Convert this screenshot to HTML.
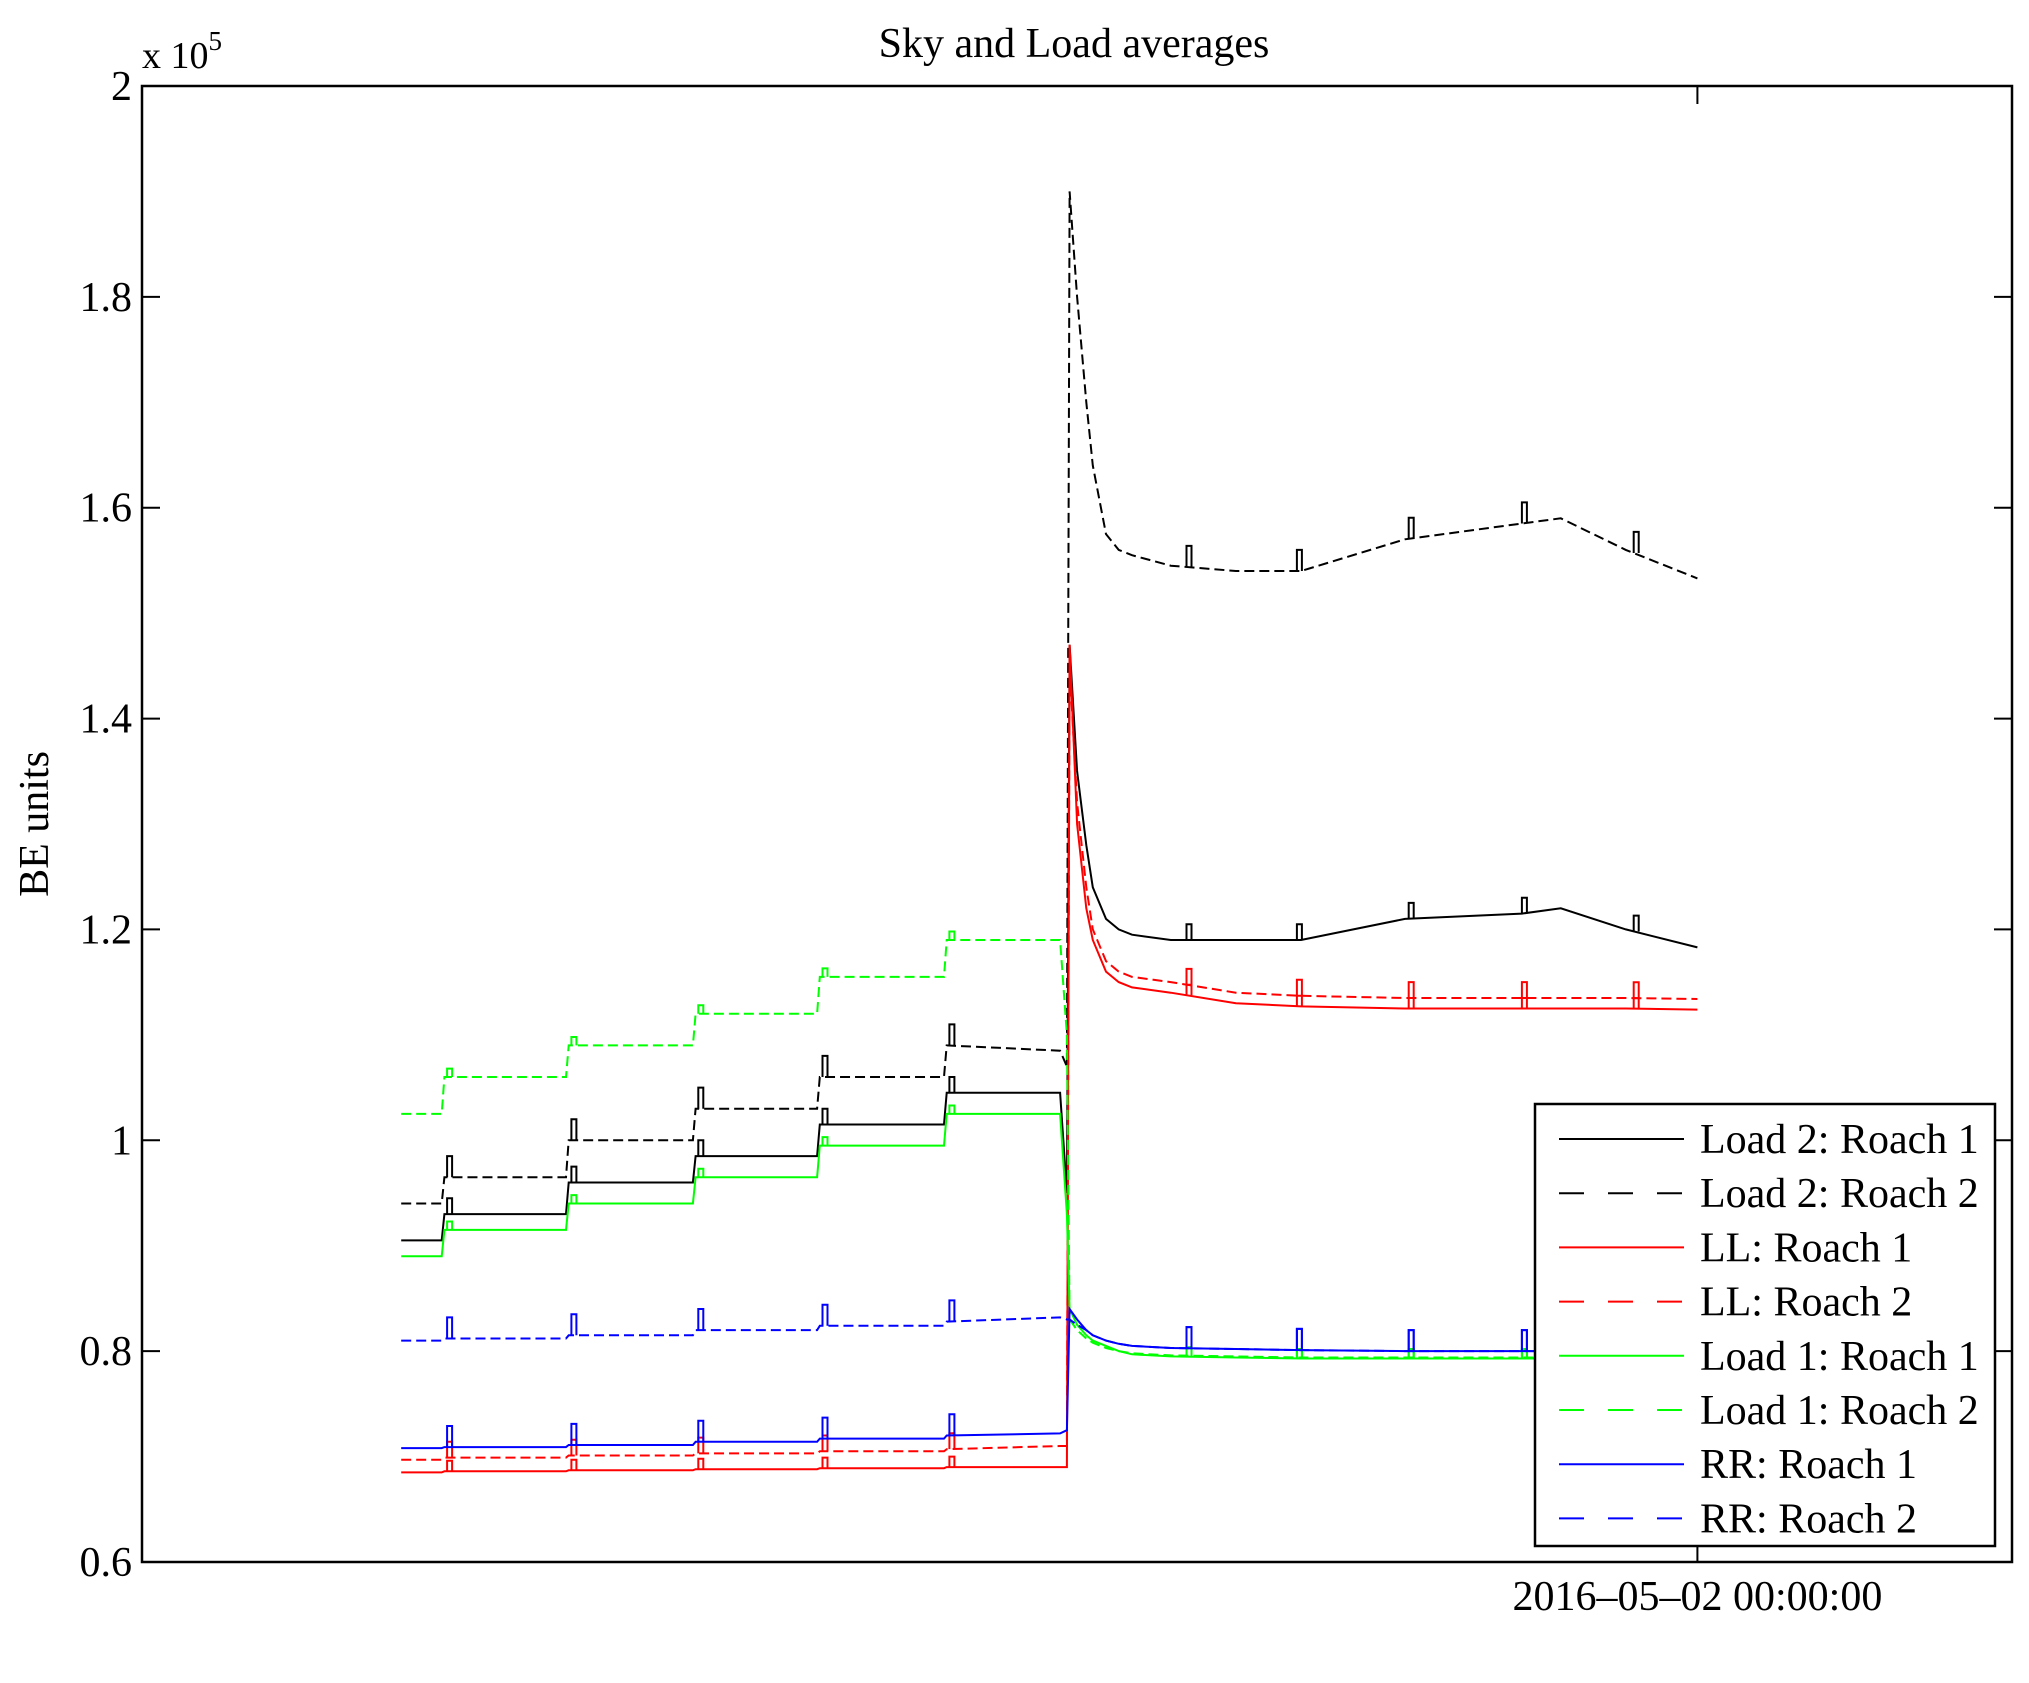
<!DOCTYPE html>
<html><head><meta charset="utf-8"><style>
html,body{margin:0;padding:0;background:#fff}
svg{display:block}
text{font-family:"Liberation Serif",serif;fill:#000}
</style></head><body>
<svg id="chart" width="2029" height="1683" viewBox="0 0 2029 1683">
<rect x="0" y="0" width="2029" height="1683" fill="#fff"/>
<text x="1074" y="57" font-size="42" text-anchor="middle">Sky and Load averages</text>
<text transform="translate(48,824) rotate(-90)" font-size="42" text-anchor="middle">BE units</text>
<text x="142" y="68" font-size="38">x 10<tspan dy="-18" font-size="27">5</tspan></text>
<g id="ticks"></g>
<g id="series"></g>
<rect x="142" y="86" width="1870" height="1476" fill="none" stroke="#000" stroke-width="2.5"/>
<g id="legend"></g>
</svg>
<script>
const yTicks=[0.6,0.8,1,1.2,1.4,1.6,1.8,2];
const yTickLabels=["0.6","0.8","1","1.2","1.4","1.6","1.8","2"];
const xTicks=[0];
const xTickLabels=["2016\u201305\u201302 00:00:00"];
const times=[-48,-46.5,-46.4,-41.9,-41.8,-37.2,-37.1,-32.6,-32.5,-27.9,-27.8,-23.6,-23.35,-23.25,-22.97,-22.63,-22.39,-21.9,-21.43,-20.94,-19.5,-17.09,-14.68,-10.83,-6.5,-5.06,-2.65,0];
const load2R1=[0.905,0.905,0.93,0.93,0.96,0.96,0.985,0.985,1.015,1.015,1.045,1.045,0.95,1.47,1.35,1.28,1.24,1.21,1.2,1.195,1.19,1.19,1.19,1.21,1.215,1.22,1.2,1.183];
const load2R2=[0.94,0.94,0.965,0.965,1.0,1.0,1.03,1.03,1.06,1.06,1.09,1.085,1.07,1.9,1.8,1.7,1.64,1.575,1.56,1.555,1.545,1.54,1.54,1.57,1.585,1.59,1.56,1.533];
const llR1=[0.685,0.685,0.686,0.686,0.687,0.687,0.688,0.688,0.689,0.689,0.69,0.69,0.69,1.47,1.3,1.22,1.19,1.16,1.15,1.145,1.14,1.13,1.127,1.125,1.125,1.125,1.125,1.124];
const llR2=[0.697,0.697,0.699,0.699,0.701,0.701,0.703,0.703,0.705,0.705,0.707,0.71,0.71,1.45,1.32,1.24,1.2,1.17,1.16,1.155,1.15,1.14,1.137,1.135,1.135,1.135,1.135,1.134];
const load1R1=[0.89,0.89,0.915,0.915,0.94,0.94,0.965,0.965,0.995,0.995,1.025,1.025,0.93,0.84,0.825,0.815,0.81,0.805,0.8,0.797,0.795,0.794,0.793,0.793,0.793,0.793,0.793,0.793];
const load1R2=[1.025,1.025,1.06,1.06,1.09,1.09,1.12,1.12,1.155,1.155,1.19,1.19,1.1,0.83,0.82,0.812,0.808,0.803,0.8,0.798,0.796,0.795,0.794,0.794,0.794,0.794,0.794,0.794];
const rrR1=[0.708,0.708,0.709,0.709,0.711,0.711,0.714,0.714,0.717,0.717,0.72,0.722,0.725,0.84,0.83,0.82,0.815,0.81,0.807,0.805,0.803,0.802,0.801,0.8,0.8,0.8,0.8,0.8];
const rrR2=[0.81,0.81,0.812,0.812,0.815,0.815,0.82,0.82,0.824,0.824,0.828,0.832,0.83,0.83,0.825,0.82,0.815,0.81,0.807,0.805,0.803,0.802,0.801,0.8,0.8,0.8,0.8,0.8];
const spikeTimes=[-46.3,-41.7,-37.0,-32.4,-27.7,-18.92,-14.83,-10.69,-6.5,-2.36];
const seriesNames=["Load 2: Roach 1","Load 2: Roach 2","LL: Roach 1","LL: Roach 2","Load 1: Roach 1","Load 1: Roach 2","RR: Roach 1","RR: Roach 2"];
const seriesValues=[load2R1,load2R2,llR1,llR2,load1R1,load1R2,rrR1,rrR2];
const spikeHeights=[0.015,0.02,0.01,0.015,0.008,0.008,0.02,0.02];

const NS="http://www.w3.org/2000/svg";
const X0=142,X1=2012,Y0=86,Y1=1562;
const xMin=-57.6,xMax=11.65,yMin=0.6,yMax=2.0;
function sx(t){return X0+(t-xMin)/(xMax-xMin)*(X1-X0);}
function sy(v){return Y1-(v-yMin)/(yMax-yMin)*(Y1-Y0);}
function mk(tag,attrs,parent){const e=document.createElementNS(NS,tag);for(const k in attrs)e.setAttribute(k,attrs[k]);parent.appendChild(e);return e;}
function interp(arr,t){for(let i=0;i<times.length-1;i++){if(t>=times[i]&&t<=times[i+1]){const f=(t-times[i])/(times[i+1]-times[i]);return arr[i]+f*(arr[i+1]-arr[i]);}}return arr[arr.length-1];}
const colors=["#000","#000","#f00","#f00","#0f0","#0f0","#00f","#00f"];
const dashed=[false,true,false,true,false,true,false,true];

const tg=document.getElementById('ticks');
yTicks.forEach((v,i)=>{
  const y=sy(v);
  const a=mk('line',{x1:X0,y1:y,x2:X0+18,y2:y,stroke:'#000','stroke-width':2},tg);
  
  
  const b=mk('line',{x1:X1-18,y1:y,x2:X1,y2:y,stroke:'#000','stroke-width':2},tg);
  
  
  const l=mk('text',{x:X0-10,y:y+14,'font-size':42,'text-anchor':'end'},tg);
  l.textContent=yTickLabels[i];
  
  
});
xTicks.forEach((t,i)=>{
  const x=sx(t);
  const a=mk('line',{x1:x,y1:Y1,x2:x,y2:Y1-18,stroke:'#000','stroke-width':2},tg);
  
  
  const b=mk('line',{x1:x,y1:Y0,x2:x,y2:Y0+18,stroke:'#000','stroke-width':2},tg);
  
  
  const l=mk('text',{x:x,y:Y1+48,'font-size':42,'text-anchor':'middle'},tg);
  l.textContent=xTickLabels[i];
  
  
});

const sg=document.getElementById('series');
seriesValues.forEach((vals,si)=>{
  let d='';
  vals.forEach((v,i)=>{d+=(i?'L':'M')+sx(times[i]).toFixed(1)+' '+sy(v).toFixed(1);});
  const p=mk('path',{d:d,fill:'none',stroke:colors[si],'stroke-width':2},sg);
  if(dashed[si])p.setAttribute('stroke-dasharray','10 5');
  
  
  let sd='';
  spikeTimes.forEach(t=>{
    const base=interp(vals,t);const x=sx(t);
    sd+='M'+x.toFixed(1)+' '+sy(base).toFixed(1)+'L'+x.toFixed(1)+' '+sy(base+spikeHeights[si]).toFixed(1)+'L'+(x+5).toFixed(1)+' '+sy(base+spikeHeights[si]).toFixed(1)+'L'+(x+5).toFixed(1)+' '+sy(base).toFixed(1);
  });
  const sp=mk('path',{d:sd,fill:'none',stroke:colors[si],'stroke-width':2},sg);
  
  
});

const lg=document.getElementById('legend');
const box=mk('rect',{x:1535,y:1104,width:460,height:442,fill:'#fff',stroke:'#000','stroke-width':2.5},lg);


seriesNames.forEach((n,i)=>{
  const y=1139+i*54.2;
  const ln=mk('line',{x1:1559,y1:y,x2:1684,y2:y,stroke:colors[i],'stroke-width':2},lg);
  if(dashed[i])ln.setAttribute('stroke-dasharray','25 24');
  
  
  const tx=mk('text',{x:1700,y:y+14,'font-size':42},lg);
  tx.textContent=n;
  
  
});
</script>
</body></html>
